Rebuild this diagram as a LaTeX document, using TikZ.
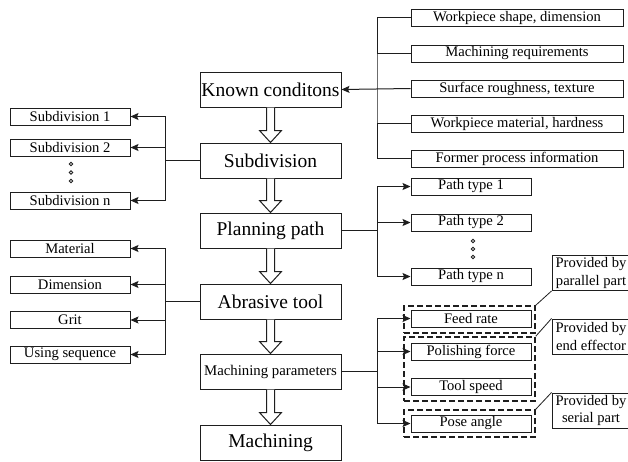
\documentclass[tikz,border=0pt]{standalone}
\usepackage{fontspec}
\setmainfont{Liberation Serif}
\usetikzlibrary{arrows.meta,calc}
\definecolor{ink}{RGB}{30,30,30}
\tikzset{
  mainbox/.style={draw=ink, line width=1pt, minimum width=141pt, minimum height=35pt,
    inner sep=0pt, font=\fontsize{19.5}{23}\selectfont},
  smallbox/.style={draw=ink, line width=1pt, minimum height=17pt, inner sep=0pt,
    font=\fontsize{14.6}{17}\selectfont},
  narrowbox/.style={smallbox, minimum width=120pt},
  widebox/.style={smallbox, minimum width=212pt},
  groupbox/.style={draw=ink, line width=1.5pt, dash pattern=on 6pt off 3pt, inner sep=0pt},
  notebox/.style={draw=ink, line width=1pt, minimum width=78pt, minimum height=35pt,
    inner sep=0pt, align=center, font=\fontsize{14.6}{17.5}\selectfont},
  link/.style={draw=ink, line width=1pt},
  tip/.style={link, -{Stealth[length=8pt,width=7pt,inset=1.5pt]}},
  leader/.style={draw=ink, line width=0.8pt},
  hollow/.style={draw=ink, line width=1pt, fill=white},
  dot/.style={circle, draw=ink, line width=0.8pt, inner sep=0pt, minimum size=3.5pt}
}
\begin{document}
\begin{tikzpicture}[x=1pt, y=-1pt]
\clip (0,0) rectangle (628,461);
\fill[white] (0,0) rectangle (628,461);

% main process column
\node[mainbox] (known) at (270.5,89.5)  {Known conditons};
\node[mainbox] (subd)  at (270.5,160.5) {Subdivision};
\node[mainbox] (plan)  at (270.5,230.5) {Planning path};
\node[mainbox] (tool)  at (270.5,301.5) {Abrasive tool};
\node[mainbox, font=\fontsize{14.8}{17}\selectfont] (param) at (270.5,371.5) {Machining parameters};
\node[mainbox] (mach)  at (270.5,442.5) {Machining};

% hollow arrows between the steps
\foreach \a/\b in {known/subd, subd/plan, plan/tool, tool/param, param/mach}{
  \draw[hollow] ($(\a.south)+(-4,0)$) -- ($(\b.north)+(-4,-12)$) -- ($(\b.north)+(-11,-12)$)
    -- (\b.north) -- ($(\b.north)+(11,-12)$) -- ($(\b.north)+(4,-12)$) -- ($(\a.south)+(4,0)$);
}

% known conditions inputs
\node[widebox] (w1) at (517,17.5)  {Workpiece shape, dimension};
\node[widebox] (w2) at (517,53.5)  {Machining requirements};
\node[widebox] (w3) at (517,88.5)  {Surface roughness, texture};
\node[widebox] (w4) at (517,123.5) {Workpiece material, hardness};
\node[widebox] (w5) at (517,158.5) {Former process information};
\coordinate (kj) at (377,88.5);
\draw[link] (w1.west) -| (kj) |- (w5.west);
\draw[link] (w2.west) -- (w2.west -| kj);
\draw[link] (w4.west) -- (w4.west -| kj);
\draw[tip] (w3.west) -- (known.east);

% subdivision outputs
\node[narrowbox] (s1) at (70,116.5) {Subdivision 1};
\node[narrowbox] (s2) at (70,147.5) {Subdivision 2};
\node[narrowbox] (sn) at (70,200.5) {Subdivision n};
\node[dot] (sd1) at (71,164) {};
\node[dot] (sd2) at (71,172.5) {};
\node[dot] (sd3) at (71,181) {};
\coordinate (sj) at (165,160.5);
\draw[link] (subd.west) -- (sj);
\draw[tip] (sj) |- (s1.east);
\draw[tip] (sj) |- (s2.east);
\draw[tip] (sj) |- (sn.east);

% path types
\node[narrowbox] (p1) at (471,186.5) {Path type 1};
\node[narrowbox] (p2) at (471,222.5) {Path type 2};
\node[narrowbox] (pn) at (471,276.5) {Path type n};
\node[dot] (pd1) at (473,241) {};
\node[dot] (pd2) at (473,249) {};
\node[dot] (pd3) at (473,257) {};
\coordinate (pj) at (377,230.5);
\draw[link] (plan.east) -- (pj);
\draw[tip] (pj) |- (p1.west);
\draw[tip] (pj) |- (p2.west);
\draw[tip] (pj) |- (pn.west);

% abrasive tool properties
\node[narrowbox] (t1) at (70,248.5) {Material};
\node[narrowbox] (t2) at (70,284.5) {Dimension};
\node[narrowbox] (t3) at (70,320)   {Grit};
\node[narrowbox] (t4) at (70,354.5) {Using sequence};
\coordinate (tj) at (165,301.5);
\draw[link] (tool.west) -- (tj);
\draw[tip] (tj) |- (t1.east);
\draw[tip] (tj) |- (t2.east);
\draw[tip] (tj) |- (t3.east);
\draw[tip] (tj) |- (t4.east);

% machining parameters
\node[narrowbox] (m1) at (471,318.5) {Feed rate};
\node[narrowbox] (m2) at (471,351.5) {Polishing force};
\node[narrowbox] (m3) at (471,387)   {Tool speed};
\node[narrowbox] (m4) at (471,423.5) {Pose angle};
\coordinate (mj) at (377,371.5);
\draw[link] (param.east) -- (mj);
\draw[tip] (mj) |- (m1.west);
\draw[tip] (mj) |- (m2.west);
\draw[tip] (mj) |- (m3.west);
\draw[tip] (mj) |- (m4.west);

% actuator groups
\node[groupbox, minimum width=131pt, minimum height=27pt] (g1) at (469.5,319.5) {};
\node[groupbox, minimum width=131pt, minimum height=64pt] (g2) at (469.5,369)   {};
\node[groupbox, minimum width=131pt, minimum height=27pt] (g3) at (469.5,423.5) {};
\node[notebox] (n1) at (591,273)   {Provided by\\parallel part};
\node[notebox] (n2) at (591,336.5) {Provided by\\end effector};
\node[notebox] (n3) at (591,410.5) {Provided by\\serial part};
\draw[leader] (g1.north east) -- (n1.south west);
\draw[leader] (g2.north east) -- (n2.north west);
\draw[leader] (g3.north east) -- (n3.north west);
\end{tikzpicture}
\end{document}
